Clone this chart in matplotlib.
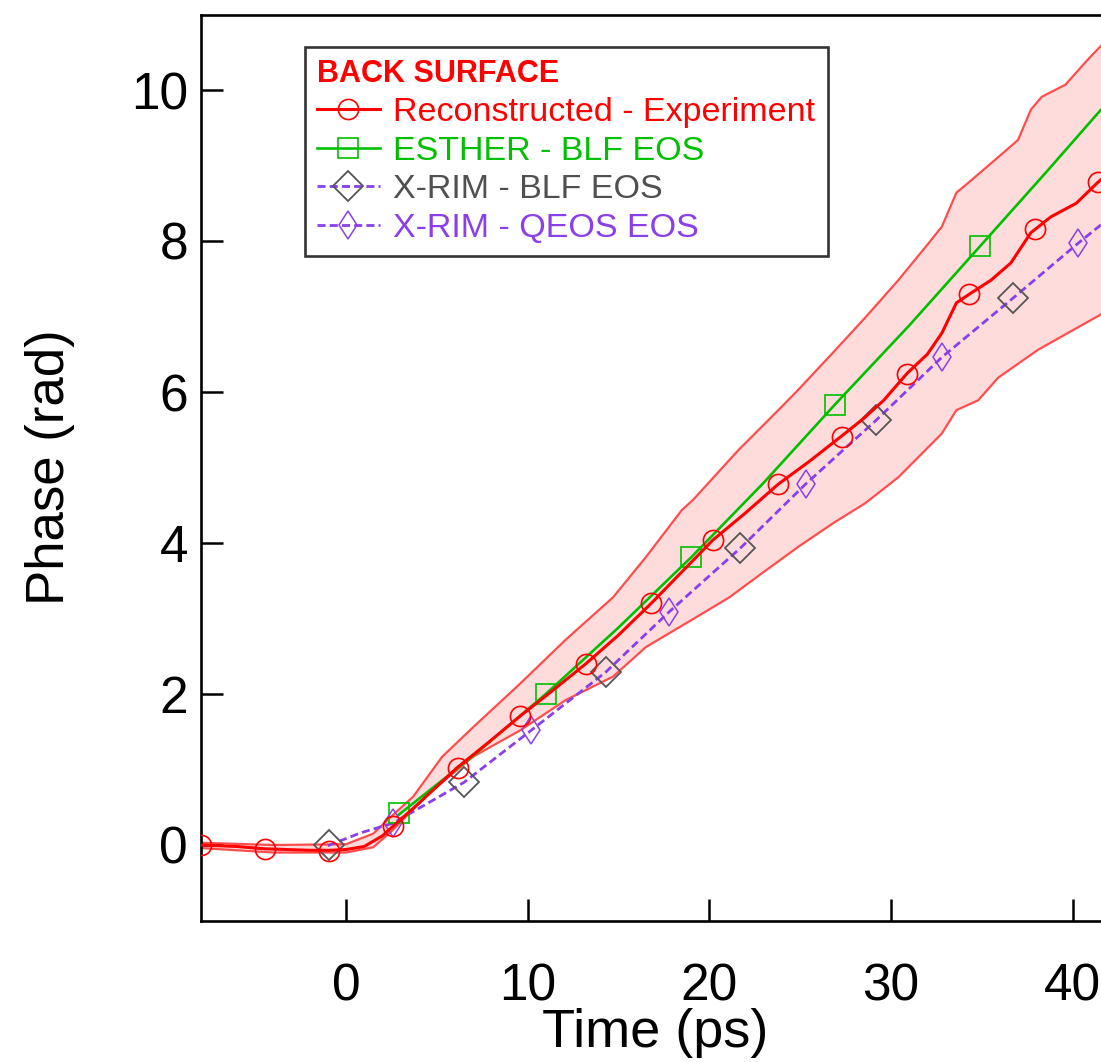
import matplotlib
matplotlib.use("Agg")
import matplotlib.pyplot as plt
from matplotlib.lines import Line2D
import numpy as np

plt.rcParams['font.family'] = ['Liberation Sans', 'DejaVu Sans']

# ---------------- data ----------------
# Reconstructed experiment: curve
exp_t = [-8, -6, -4.5, -2, -0.9, 0, 1, 2, 2.6, 4, 6.1, 7.8, 9.6, 11.4, 13.2, 15.0,
         16.8, 18.5, 20.2, 22.0, 23.8, 25.5, 27.3, 28.5, 29.6, 30.9, 32.0, 32.8,
         33.6, 34.4, 35.5, 36.6, 37.7, 38.8, 40.2, 41.4, 42.0]
exp_phase = [0.0, -0.02, -0.05, -0.07, -0.07, -0.06, -0.02, 0.12, 0.25, 0.55, 1.02,
             1.35, 1.71, 2.05, 2.40, 2.78, 3.20, 3.62, 4.04, 4.40, 4.78, 5.08, 5.42,
             5.65, 5.89, 6.25, 6.50, 6.78, 7.18, 7.31, 7.48, 7.71, 8.11, 8.32, 8.50,
             8.78, 8.90]
# Reconstructed experiment: marker positions
exp_mk_t = [-8, -4.45, -0.93, 2.58, 6.15, 9.6, 13.2, 16.8, 20.2, 23.8, 27.3, 30.9,
            34.3, 37.9, 41.4]
exp_mk_phase = [0.0, -0.05, -0.08, 0.25, 1.02, 1.71, 2.40, 3.20, 4.04, 4.78, 5.40,
                6.24, 7.30, 8.16, 8.78]

# Uncertainty band
band_up_t = [-8, -4, 0, 1.5, 2.5, 3.7, 5.3, 7.0, 9.6, 12.1, 14.7, 16.5, 18.5, 19.1,
             21.6, 23.8, 24.9, 26.8, 28.6, 30.4, 31.9, 32.8, 33.6, 34.3, 35.9, 37.0,
             37.7, 38.3, 39.6, 40.9, 41.5, 42.0]
band_up = [0.03, 0.0, 0.01, 0.15, 0.38, 0.64, 1.17, 1.56, 2.14, 2.72, 3.28, 3.81,
           4.44, 4.57, 5.23, 5.76, 6.03, 6.52, 6.99, 7.48, 7.92, 8.19, 8.64, 8.78,
           9.11, 9.34, 9.74, 9.91, 10.07, 10.42, 10.57, 10.70]
band_lo_t = [-8, -4, 0, 1.5, 2.5, 4.6, 7.0, 9.6, 12.1, 14.7, 16.5, 19.3, 21.1, 22.9,
             24.9, 26.8, 28.6, 30.4, 32.8, 33.6, 34.8, 35.9, 38.1, 41.5, 42.0]
band_lo = [-0.04, -0.1, -0.1, -0.03, 0.18, 0.69, 1.17, 1.52, 1.92, 2.23, 2.62, 3.02,
           3.28, 3.60, 3.95, 4.26, 4.53, 4.87, 5.45, 5.76, 5.89, 6.19, 6.56, 7.02, 7.10]

# ESTHER - BLF EOS
esther_t = [2.9, 7.0, 11.0, 15.0, 19.0, 23.0, 26.9, 31.0, 34.9, 38.5, 42.0]
esther_phase = [0.40, 1.18, 2.00, 2.88, 3.81, 4.80, 5.83, 6.88, 7.93, 8.90, 9.86]
esther_mk_t = [2.9, 11.0, 19.0, 26.9, 34.9]
esther_mk_phase = [0.42, 2.00, 3.81, 5.83, 7.93]

# X-RIM curve (dashed)
xrim_t = [-1.0, 0.8, 2.6, 6.5, 10.2, 14.3, 17.8, 21.7, 25.3, 29.2, 32.8, 36.7, 40.3, 42.0]
xrim_phase = [-0.01, 0.16, 0.29, 0.83, 1.52, 2.29, 3.09, 3.93, 4.78, 5.63, 6.46, 7.24,
              7.97, 8.30]
# X-RIM - BLF EOS markers
xblf_mk_t = [-0.93, 6.5, 14.3, 21.7, 29.2, 36.7]
xblf_mk_phase = [0.0, 0.83, 2.29, 3.93, 5.63, 7.24]
# X-RIM - QEOS EOS markers
xqeos_mk_t = [2.6, 10.2, 17.8, 25.3, 32.8, 40.3]
xqeos_mk_phase = [0.29, 1.52, 3.09, 4.78, 6.46, 7.97]

x_ticks = [0, 10, 20, 30, 40]
y_ticks = [0, 2, 4, 6, 8, 10]

# ---------------- styles ----------------
RED = '#FF0000'
BAND_EDGE = '#FF4D4D'
BAND_FILL = '#FFDCDC'
GREEN = '#00C000'
GRAY = '#555555'
PURPLE = '#8A3FE8'

W, H = 1101, 1062
fig = plt.figure(figsize=(W / 100, H / 100), dpi=100)
left_px, right_px, top_px, bot_px = 200.6, 1109.0, 14.5, 920.5
ax = fig.add_axes([left_px / W, 1 - bot_px / H, (right_px - left_px) / W,
                   (bot_px - top_px) / H])

# band
poly_t = list(band_up_t) + list(band_lo_t[::-1])
poly_v = list(band_up) + list(band_lo[::-1])
ax.fill(poly_t, poly_v, facecolor=BAND_FILL, edgecolor='none', zorder=1)
ax.plot(band_up_t, band_up, color=BAND_EDGE, lw=1.6, zorder=2)
ax.plot(band_lo_t, band_lo, color=BAND_EDGE, lw=1.6, zorder=2)

# curves
ax.plot(esther_t, esther_phase, color=GREEN, lw=1.9, zorder=4)
ax.plot(esther_mk_t, esther_mk_phase, ls='none', marker='s', ms=14.5,
        mfc='none', mec=GREEN, mew=1.2, zorder=5)

ax.plot(xrim_t, xrim_phase, color=PURPLE, lw=2.0, dashes=(2.9, 1.5), zorder=4)
ax.plot(xblf_mk_t, xblf_mk_phase, ls='none', marker='D', ms=15, mfc='none',
        mec=GRAY, mew=1.3, zorder=5)
ax.plot(xqeos_mk_t, xqeos_mk_phase, ls='none', marker='d', ms=14.5, mfc='none',
        mec=PURPLE, mew=1.1, zorder=5)

ax.plot(exp_t, exp_phase, color=RED, lw=2.2, zorder=6)
ax.plot(exp_mk_t, exp_mk_phase, ls='none', marker='o', ms=14.5, mfc='none',
        mec=RED, mew=1.2, zorder=7)

ax.set_xlim(-8, 42)
ax.set_ylim(-1, 11)
ax.set_xticks(x_ticks)
ax.set_yticks(y_ticks)
ax.tick_params(axis='both', direction='in', length=16, width=1.8, labelsize=37,
               colors='black')
ax.tick_params(axis='x', pad=30)
ax.tick_params(axis='y', pad=9)
for s in ax.spines.values():
    s.set_linewidth(1.9)
ax.set_xlabel('Time (ps)', fontsize=39, labelpad=-2)
ax.set_ylabel('Phase (rad)', fontsize=38, labelpad=40)

# legend
handles = [
    Line2D([], [], color=RED, lw=2.2, marker='o', ms=14.5, mfc='none', mec=RED, mew=1.2),
    Line2D([], [], color=GREEN, lw=1.9, marker='s', ms=14.5, mfc='none', mec=GREEN, mew=1.2),
    Line2D([], [], color=PURPLE, lw=2.0, dashes=(2.9, 1.5), marker='D', ms=15,
           mfc='none', mec=GRAY, mew=1.3),
    Line2D([], [], color=PURPLE, lw=2.0, dashes=(2.9, 1.5), marker='d', ms=14.5,
           mfc='none', mec=PURPLE, mew=1.1),
]
labels = ['Reconstructed - Experiment', 'ESTHER - BLF EOS', 'X-RIM - BLF EOS',
          'X-RIM - QEOS EOS']
leg_x = (305 - left_px) / (right_px - left_px)
leg_y = (bot_px - 47) / (bot_px - top_px)
leg = ax.legend(handles, labels, loc='upper left', bbox_to_anchor=(leg_x, leg_y),
                borderaxespad=0, fontsize=24.5, frameon=True, fancybox=False,
                edgecolor='black', handlelength=1.85, handletextpad=0.4,
                labelspacing=0.23, borderpad=0.35, title='BACK SURFACE',
                title_fontproperties={'size': 22, 'weight': 'bold'},
                alignment='left',
                labelcolor=[RED, GREEN, '#505050', PURPLE])
leg.get_title().set_color(RED)
leg.get_frame().set_linewidth(1.9)

fig.savefig('out.png', dpi=100)
